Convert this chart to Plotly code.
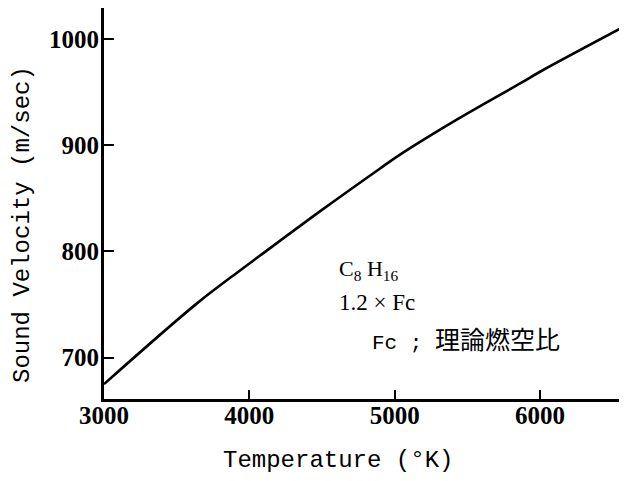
import plotly.graph_objects as go

temperature = [3000, 3640, 3936, 4074, 4500, 4900, 5037, 5416, 5863, 6001, 6600]
sound_velocity = [675, 751, 782, 796, 839, 878, 891, 923, 958, 969, 1013]

x_ticks = [3000, 4000, 5000, 6000]
y_ticks = [700, 800, 900, 1000]

fig = go.Figure()
fig.add_trace(go.Scatter(
    x=temperature, y=sound_velocity, mode="lines",
    line=dict(color="black", width=2.6, shape="spline", smoothing=1.0),
    showlegend=False, hoverinfo="skip"))

tick_font = dict(family="Liberation Serif", size=25, color="black", weight="bold")
title_font = dict(family="Liberation Mono", size=24, color="black")

# page body has an 8px margin; figure sized so the page fits the 627x481 window
FW, FH = 611, 465
ML, MT, MB = 96, 0, 74
fig.update_layout(
    width=FW, height=FH,
    margin=dict(l=ML, r=0, t=MT, b=MB),
    paper_bgcolor="white", plot_bgcolor="white",
    xaxis=dict(
        range=[3000, 6544], tickvals=x_ticks, ticktext=[str(v) for v in x_ticks],
        showgrid=False, zeroline=False, showline=True, linecolor="black", linewidth=3,
        mirror=True, ticks="inside", ticklen=9, tickwidth=2, tickcolor="black",
        tickfont=tick_font, ticklabelstandoff=-8, automargin=False,
    ),
    yaxis=dict(
        range=[661, 1029], tickvals=y_ticks, ticktext=[str(v) for v in y_ticks],
        showgrid=False, zeroline=False, showline=True, linecolor="black", linewidth=3,
        ticks="inside", ticklen=10, tickwidth=2, tickcolor="black",
        tickfont=tick_font, ticklabelstandoff=-3, automargin=False,
    ),
)

PL, PT, PB = 8 + ML, 8 + MT, 8 + FH - MB   # plot edges in page pixels
PW, PH = 8 + FW - PL, PB - PT


def px(x):
    return (x - PL) / PW


def py(y):
    return (PB - y) / PH


fig.add_annotation(xref="paper", yref="paper", x=px(338), y=py(476),
                   xanchor="center", yanchor="bottom", showarrow=False,
                   text="Temperature (°K)", font=title_font)
fig.add_annotation(xref="paper", yref="paper", x=px(22), y=py(225),
                   xanchor="center", yanchor="middle", showarrow=False, textangle=-90,
                   text="Sound Velocity (m/sec)", font=title_font)

ann_font = dict(family="Liberation Serif", size=22, color="black")
fig.add_annotation(xref="paper", yref="paper", x=px(337), y=py(270),
                   xanchor="left", yanchor="middle", showarrow=False,
                   text="C<sub>8</sub> H<sub>16</sub>", font=ann_font)
fig.add_annotation(xref="paper", yref="paper", x=px(337), y=py(302),
                   xanchor="left", yanchor="middle", showarrow=False,
                   text="1.2 × Fc", font=dict(family="Liberation Serif", size=23, color="black"))
fig.add_annotation(xref="paper", yref="paper", x=px(370), y=py(338),
                   xanchor="left", yanchor="middle", showarrow=False,
                   text="Fc ; <span style='font-family:Noto Sans CJK JP;font-size:25px'>理論燃空比</span>",
                   font=dict(family="Liberation Mono", size=21, color="black"))

fig.write_html("out.html")
